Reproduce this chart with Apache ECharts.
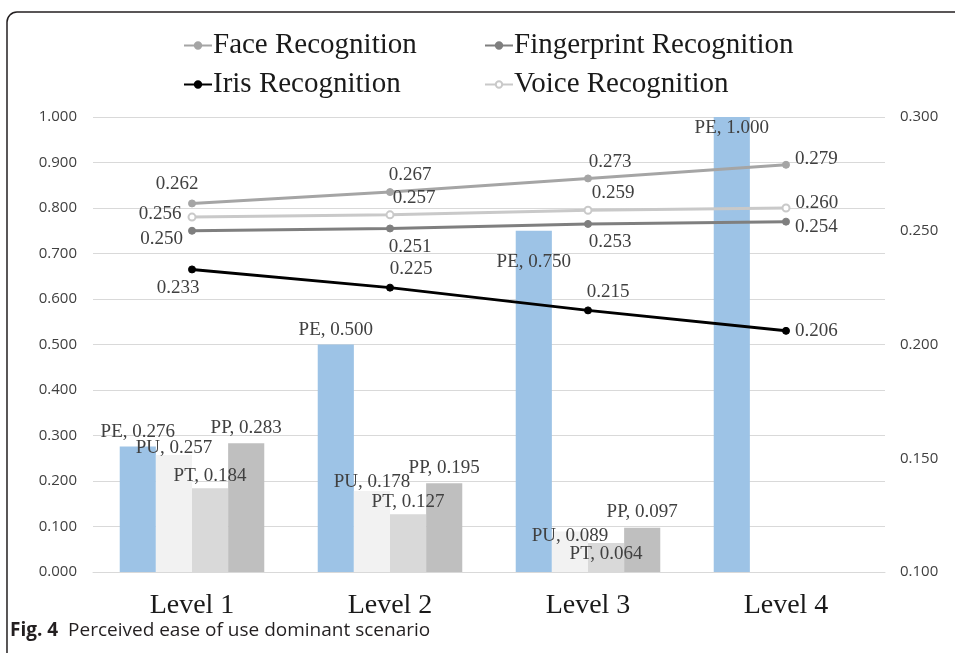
<!DOCTYPE html>
<html>
<head>
<meta charset="utf-8">
<script src="https://cdn.jsdelivr.net/npm/echarts@6/dist/echarts.min.js"></script>
<style>html,body{margin:0;padding:0;background:#fff}#c{width:955px;height:653px}</style>
</head>
<body>
<div id="c"></div>
<script>
// ---- data ----
var categories = ['Level 1', 'Level 2', 'Level 3', 'Level 4'];
var barNames = ['PE', 'PU', 'PT', 'PP'];
var PE = [0.276, 0.500, 0.750, 1.000];
var PU = [0.257, 0.178, 0.089, null];
var PT = [0.184, 0.127, 0.064, null];
var PP = [0.283, 0.195, 0.097, null];
var lineNames = ['Face Recognition', 'Fingerprint Recognition', 'Iris Recognition', 'Voice Recognition'];
var face = [0.262, 0.267, 0.273, 0.279];
var fingerprint = [0.250, 0.251, 0.253, 0.254];
var iris = [0.233, 0.225, 0.215, 0.206];
var voice = [0.256, 0.257, 0.259, 0.260];
var leftTicks = {min: 0, max: 1, interval: 0.1};
var rightTicks = {min: 0.1, max: 0.3, interval: 0.05};

// ---- styles ----
var SERIF = '"Liberation Serif", "Times New Roman", serif';
var barColors = ['#9dc3e6', '#f2f2f2', '#d9d9d9', '#bfbfbf'];
var barLabelPlace = [
  [['top', [0, 0]], ['top', [0, 0]], ['insideTop', [0, 17]], ['insideTop', [0, -3]]],
  [['top', [0, 7]], ['top', [0, 6]], ['top', [0, 19]], null],
  [['top', [0, 2]], ['top', [0, 2]], ['top', [0, 26]], null],
  [['top', [0, -1]], ['top', [0, -1]], ['top', [0, -1]], null]
];
var lineColors = ['#a5a5a5', '#7f7f7f', '#000000', '#c9c9c9'];
var lineSymbols = ['circle', 'circle', 'circle', 'emptyCircle'];
var lineLabelPlace = [
  [['top', [-15, -1]], ['top', [20, 1]], ['top', [22, 2]], ['right', [0, -6]]],
  [['left', [0, 8]], ['bottom', [20, 0]], ['bottom', [22, 0]], ['right', [0, 5]]],
  [['bottom', [-14, 0]], ['top', [21, 0]], ['top', [20, 0]], ['right', [0, 0]]],
  [['left', [-1, -3]], ['top', [24, 2]], ['top', [25, 2]], ['right', [0, -5]]]
];

var barData = [PE, PU, PT, PP];
var lineData = [face, fingerprint, iris, voice];

var series = [];
barData.forEach(function (arr, si) {
  series.push({
    name: barNames[si],
    type: 'bar',
    yAxisIndex: 0,
    barGap: '0%',
    barCategoryGap: '27%',
    itemStyle: {color: barColors[si]},
    z: 2,
    data: arr.map(function (v, i) {
      var pl = barLabelPlace[si][i];
      return {
        value: v,
        label: pl ? {show: true, position: pl[0], offset: pl[1]} : {show: false}
      };
    }),
    label: {
      show: true,
      fontFamily: SERIF,
      fontSize: 19,
      color: '#404040',
      formatter: (function (n) { return function (p) { return n + ', ' + Number(p.value).toFixed(3); }; })(barNames[si])
    }
  });
});
lineData.forEach(function (arr, si) {
  series.push({
    name: lineNames[si],
    type: 'line',
    yAxisIndex: 1,
    symbol: lineSymbols[si],
    symbolSize: 7,
    lineStyle: {color: lineColors[si], width: 3},
    itemStyle: {color: lineColors[si], borderColor: lineColors[si], borderWidth: lineSymbols[si] === 'emptyCircle' ? 2 : 1},
    z: 5,
    data: arr.map(function (v, i) {
      var pl = lineLabelPlace[si][i];
      return {value: v, label: {show: true, position: pl[0], offset: pl[1]}};
    }),
    label: {
      show: true,
      fontFamily: SERIF,
      fontSize: 19,
      color: '#404040',
      formatter: function (p) { return Number(p.value).toFixed(3); }
    }
  });
});

function legendAt(name, left, top) {
  return {
    data: [name],
    left: left, top: top,
    itemWidth: 28, itemHeight: 8,
    itemGap: 2,
    textStyle: {fontFamily: SERIF, fontSize: 29, color: '#1a1a1a', padding: [0, 0, 0, -4]},
    selectedMode: false
  };
}

var chart = echarts.init(document.getElementById('c'));
chart.setOption({
  animation: false,
  backgroundColor: '#fff',
  grid: {left: 93, right: 70, top: 117, bottom: 81, containLabel: false},
  legend: [
    legendAt('Face Recognition', 178, 26),
    legendAt('Fingerprint Recognition', 479, 26),
    legendAt('Iris Recognition', 178, 65),
    legendAt('Voice Recognition', 479, 65)
  ],
  xAxis: {
    type: 'category',
    data: categories,
    axisLine: {show: true, lineStyle: {color: '#d9d9d9', width: 1}},
    axisTick: {show: false},
    axisLabel: {fontFamily: SERIF, fontSize: 28, color: '#1a1a1a', margin: 20}
  },
  yAxis: [
    {
      type: 'value', min: leftTicks.min, max: leftTicks.max, interval: leftTicks.interval,
      axisLine: {show: false}, axisTick: {show: false},
      splitLine: {lineStyle: {color: '#d9d9d9', width: 1}},
      axisLabel: {fontFamily: '"Open Sans", sans-serif', fontSize: 15, color: '#404040', margin: 16,
        formatter: function (v) { return v.toFixed(3); }}
    },
    {
      type: 'value', min: rightTicks.min, max: rightTicks.max, interval: rightTicks.interval,
      axisLine: {show: false}, axisTick: {show: false},
      splitLine: {show: false},
      axisLabel: {fontFamily: '"Open Sans", sans-serif', fontSize: 15, color: '#404040', margin: 15,
        formatter: function (v) { return v.toFixed(3); }}
    }
  ],
  graphic: [
    {type: 'rect', shape: {x: 7, y: 12, width: 1000, height: 700, r: 10},
      style: {fill: 'none', stroke: '#231f20', lineWidth: 1.5}, silent: true, z: -1},
    {type: 'text', left: 10, top: 621,
      style: {
        text: '{b|Fig. 4}  Perceived ease of use dominant scenario',
        font: '19px "Open Sans", sans-serif',
        fill: '#231f20',
        rich: {b: {fontWeight: 'bold', fontSize: 19, fontFamily: '"Open Sans", sans-serif', fill: '#231f20'}}
      }}
  ],
  series: series
});
</script>
</body>
</html>
